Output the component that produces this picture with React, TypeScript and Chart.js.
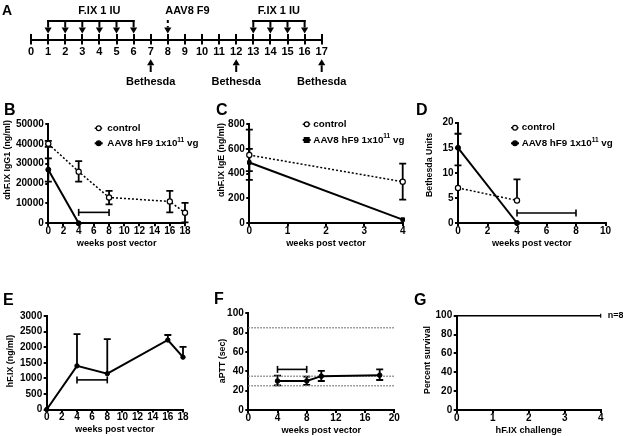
import React, { useEffect, useRef } from "react";
import { Chart, registerables } from "chart.js";

Chart.register(...registerables);

const W = 623;
const H = 436;
const FONT = "'Liberation Sans', Arial, Helvetica, sans-serif";
Chart.defaults.font.family = FONT;
Chart.defaults.color = "#000";

// ---------------- data ----------------
// Panel A: dosing timeline (weeks)
const timelineStart = 0;
const timelineEnd = 17;
const fixDoseWeeksFirst = [1, 2, 3, 4, 5, 6];
const fixDoseWeeksSecond = [13, 14, 15, 16];
const vectorWeeks = [8];
const bethesdaWeeks = [7, 12, 17];
const fixLabel = "F.IX 1 IU";
const vectorLabel = "AAV8 F9";
const bethesdaLabel = "Bethesda";

// Panel B: anti-hF.IX IgG1 (ng/ml)
const bWeeks = [0, 4, 8, 16, 18];
const bControl = [40000, 26000, 13000, 11000, 5300];
const bControlLow = [38500, 21000, 9500, 5500, 500];
const bControlHigh = [41500, 31300, 16300, 16300, 10300];
const bAavWeeks = [0, 4];
const bAav = [27000, 0];
const bAavLow = [21000, null];
const bAavHigh = [32700, null];
const bChallengeWeeks = [4, 8];
const bChallengeLevel = 5500;

// Panel C: anti-hF.IX IgE (ng/ml)
const cWeeks = [0, 4];
const cControl = [550, 335];
const cControlLow = [350, 190];
const cControlHigh = [755, 480];
const cAav = [490, 30];
const cAavLow = [420, null];
const cAavHigh = [600, null];

// Panel D: Bethesda units
const dWeeks = [0, 4];
const dControl = [7, 4.5];
const dControlHigh = [null, 8.7];
const dAav = [15, 0];
const dAavLow = [11.5, null];
const dAavHigh = [17.8, null];
const dChallengeWeeks = [4, 8];
const dChallengeLevel = 2;

// Panel E: hF.IX (ng/ml)
const eWeeks = [0, 4, 8, 16, 18];
const eMean = [0, 1400, 1150, 2230, 1680];
const eHigh = [null, 2420, 2260, 2390, 2010];
const eChallengeWeeks = [4, 8];
const eChallengeLevel = 950;

// Panel F: aPTT (sec)
const fWeeks = [4, 8, 10, 18];
const fMean = [30, 30, 35, 36];
const fLow = [25.5, 26, 30, 31];
const fHigh = [35.5, 34.5, 40.5, 42];
const fRefLevels = [85, 35, 25];
const fChallengeWeeks = [4, 8];
const fChallengeLevel = 42;

// Panel G: survival
const gChallenge = [0, 4];
const gSurvival = [100, 100];
const gNote = "n=8";

const legendControl = [{ t: "control" }];
const legendAav = [{ t: "AAV8 hF9 1x10" }, { t: "11", sup: true }, { t: " vg" }];

// ---------------- helpers ----------------
const pts = (xs: number[], ys: number[]) => xs.map((x, i) => ({ x, y: ys[i] }));

const controlStyle = {
  type: "line",
  borderColor: "#000",
  borderWidth: 1.5,
  borderDash: [2, 2],
  pointStyle: "circle",
  pointRadius: 2.6,
  pointBackgroundColor: "#fff",
  pointBorderColor: "#000",
  pointBorderWidth: 1.2,
  clip: false,
  order: 2,
};
const aavStyle = {
  type: "line",
  borderColor: "#000",
  borderWidth: 2,
  pointStyle: "circle",
  pointRadius: 2.5,
  pointBackgroundColor: "#000",
  pointBorderColor: "#000",
  pointBorderWidth: 1,
  clip: false,
  order: 1,
};
const rangeStyle = {
  type: "line",
  borderColor: "#000",
  borderWidth: 1.6,
  pointStyle: "line",
  pointRotation: 90,
  pointRadius: 3.5,
  pointBorderWidth: 1.6,
  pointBorderColor: "#000",
  clip: false,
  order: 3,
};

function drawMarker(ctx: CanvasRenderingContext2D, kind: string, x: number, y: number, r: number) {
  ctx.save();
  ctx.setLineDash([]);
  ctx.lineWidth = 1.2;
  ctx.strokeStyle = "#000";
  ctx.fillStyle = kind === "open" ? "#fff" : "#000";
  ctx.beginPath();
  if (kind === "square") ctx.rect(x - r, y - r, 2 * r, 2 * r);
  else ctx.arc(x, y, r, 0, Math.PI * 2);
  ctx.fill();
  ctx.stroke();
  ctx.restore();
}

const errorBarPlugin = {
  id: "errorBars",
  beforeDatasetsDraw(chart: any) {
    const ctx = chart.ctx as CanvasRenderingContext2D;
    const xs = chart.scales.x;
    const ys = chart.scales.y;
    chart.data.datasets.forEach((ds: any) => {
      if (!ds.errLow && !ds.errHigh) return;
      ctx.save();
      ctx.strokeStyle = "#000";
      ctx.lineWidth = 1.8;
      ctx.setLineDash([]);
      ds.data.forEach((p: any, j: number) => {
        const x = xs.getPixelForValue(p.x);
        const y0 = ys.getPixelForValue(p.y);
        const ends = [ds.errLow ? ds.errLow[j] : null, ds.errHigh ? ds.errHigh[j] : null];
        ends.forEach((v) => {
          if (v === null || v === undefined) return;
          const y = ys.getPixelForValue(v);
          ctx.beginPath();
          ctx.moveTo(x, y0);
          ctx.lineTo(x, y);
          ctx.moveTo(x - 3.5, y);
          ctx.lineTo(x + 3.5, y);
          ctx.stroke();
        });
      });
      ctx.restore();
    });
  },
};

const panelTextPlugin = {
  id: "panelText",
  afterDraw(chart: any, _args: any, o: any) {
    const ctx = chart.ctx as CanvasRenderingContext2D;
    ctx.save();
    ctx.fillStyle = "#000";
    ctx.strokeStyle = "#000";
    ctx.font = `bold 16px ${FONT}`;
    ctx.textAlign = "left";
    ctx.textBaseline = "alphabetic";
    ctx.fillText(o.letter, o.letterX, o.letterY);

    ctx.save();
    ctx.translate(o.yTitleX, o.yTitleY);
    ctx.rotate(-Math.PI / 2);
    ctx.font = `bold 8.8px ${FONT}`;
    ctx.textAlign = "center";
    ctx.textBaseline = "middle";
    ctx.fillText(o.yTitle, 0, 0);
    ctx.restore();

    if (o.legend) {
      const lg = o.legend;
      lg.entries.forEach((e: any, i: number) => {
        const y = lg.y0 + i * lg.dy;
        ctx.lineWidth = e.dashed ? 1.5 : 2;
        ctx.setLineDash(e.dashed ? [1.5, 1.5] : []);
        ctx.beginPath();
        ctx.moveTo(lg.x - 4, y);
        ctx.lineTo(lg.x + 4, y);
        ctx.stroke();
        ctx.setLineDash([]);
        drawMarker(ctx, e.kind, lg.x, y, 2.4);
        let tx = lg.textX;
        ctx.textAlign = "left";
        ctx.textBaseline = "middle";
        e.parts.forEach((p: any) => {
          ctx.font = `bold ${p.sup ? 6.5 : 9.8}px ${FONT}`;
          ctx.fillText(p.t, tx, p.sup ? y - 3.5 : y);
          tx += ctx.measureText(p.t).width;
        });
      });
    }

    if (o.note) {
      const xs = chart.scales.x;
      const ys = chart.scales.y;
      ctx.font = `bold 9px ${FONT}`;
      ctx.textAlign = "left";
      ctx.textBaseline = "middle";
      ctx.fillText(o.note.text, xs.getPixelForValue(o.note.x) + 7, ys.getPixelForValue(o.note.y));
    }
    ctx.restore();
  },
};

function arrow(ctx: CanvasRenderingContext2D, x: number, yFrom: number, yTip: number, dashed: boolean) {
  const dir = yTip > yFrom ? 1 : -1;
  const head = 6;
  const half = 3.6;
  ctx.beginPath();
  ctx.setLineDash(dashed ? [3, 3] : []);
  ctx.moveTo(x, yFrom);
  ctx.lineTo(x, yTip - dir * head);
  ctx.stroke();
  ctx.setLineDash([]);
  ctx.beginPath();
  ctx.moveTo(x, yTip);
  ctx.lineTo(x - half, yTip - dir * head);
  ctx.lineTo(x + half, yTip - dir * head);
  ctx.closePath();
  ctx.fill();
}

const timelinePlugin = {
  id: "timeline",
  afterDraw(chart: any) {
    const ctx = chart.ctx as CanvasRenderingContext2D;
    const xs = chart.scales.x;
    const px = (w: number) => xs.getPixelForValue(w);
    ctx.save();
    ctx.strokeStyle = "#000";
    ctx.fillStyle = "#000";
    ctx.lineWidth = 2;
    const bracketY = 21;
    const tipY = 33.5;
    [fixDoseWeeksFirst, fixDoseWeeksSecond].forEach((g) => {
      ctx.beginPath();
      ctx.moveTo(px(g[0]) - 1, bracketY);
      ctx.lineTo(px(g[g.length - 1]) + 1, bracketY);
      ctx.stroke();
      g.forEach((w) => arrow(ctx, px(w), bracketY - 1, tipY, false));
    });
    vectorWeeks.forEach((w) => arrow(ctx, px(w), 20, tipY, true));
    bethesdaWeeks.forEach((w) => arrow(ctx, px(w), 72, 59.3, false));
    ctx.font = `bold 11px ${FONT}`;
    ctx.textAlign = "center";
    ctx.textBaseline = "alphabetic";
    bethesdaWeeks.forEach((w) => ctx.fillText(bethesdaLabel, px(w), 85));
    ctx.fillText(fixLabel, px(4.0), 13.5);
    ctx.fillText(fixLabel, px(14.5), 13.5);
    ctx.fillText(vectorLabel, px(9.15), 13.5);
    ctx.font = `bold 14px ${FONT}`;
    ctx.textAlign = "left";
    ctx.fillText("A", 2, 15);
    ctx.restore();
  },
};

function timelineConfig(): any {
  const xh = 20;
  return {
    type: "line",
    data: { datasets: [] },
    options: {
      responsive: false,
      animation: false,
      devicePixelRatio: 1,
      events: [],
      layout: { padding: { left: 31, right: W - 321.7, top: 34, bottom: H - 39.5 - xh } },
      plugins: { legend: { display: false }, tooltip: { enabled: false } },
      scales: {
        x: {
          type: "linear",
          min: timelineStart,
          max: timelineEnd,
          afterFit: (s: any) => {
            s.height = xh;
          },
          ticks: {
            stepSize: 1,
            autoSkip: false,
            maxRotation: 0,
            font: { size: 11, weight: "bold" },
            color: "#000",
            padding: 1,
            callback: (v: any) => String(v),
          },
          grid: { drawOnChartArea: true, drawTicks: true, tickLength: 5, lineWidth: 2, color: "#000" },
          border: { display: true, width: 2, color: "#000" },
        },
        y: { display: false, min: 0, max: 1 },
      },
    },
    plugins: [timelinePlugin],
  };
}

function panelConfig(p: any): any {
  const yw = 40;
  const xh = p.titleY + 5.4 - p.B;
  const tickFont = { size: 10, weight: "bold" };
  const axisCommon = {
    type: "linear",
    grid: { drawOnChartArea: false, drawTicks: true, tickLength: 3, lineWidth: 2, color: "#000" },
    border: { display: true, width: 2, color: "#000" },
  };
  return {
    type: "line",
    data: { datasets: p.datasets },
    options: {
      responsive: false,
      animation: false,
      devicePixelRatio: 1,
      events: [],
      layout: { padding: { left: p.L - yw, right: W - p.R, top: p.T, bottom: H - p.B - xh } },
      plugins: {
        legend: { display: false },
        tooltip: { enabled: false },
        panelText: {
          letter: p.letter,
          letterX: p.letterX,
          letterY: p.letterY,
          yTitle: p.yTitle,
          yTitleX: p.yTitleX,
          yTitleY: p.yTitleY,
          legend: p.legend,
          note: p.note,
        },
      },
      scales: {
        x: {
          ...axisCommon,
          min: p.x[0],
          max: p.x[1],
          afterFit: (s: any) => {
            s.height = xh;
          },
          ticks: {
            stepSize: p.x[2],
            autoSkip: false,
            maxRotation: 0,
            font: tickFont,
            color: "#000",
            padding: -1,
            callback: (v: any) => String(v),
          },
          title: {
            display: true,
            text: p.xTitle,
            font: { size: 9.2, weight: "bold", lineHeight: 1.2 },
            color: "#000",
            padding: 0,
          },
        },
        y: {
          ...axisCommon,
          min: p.y[0],
          max: p.y[1],
          afterFit: (s: any) => {
            s.width = yw;
          },
          ticks: {
            stepSize: p.y[2],
            autoSkip: false,
            font: tickFont,
            color: "#000",
            padding: 1.5,
            callback: (v: any) => String(v),
          },
        },
      },
    },
    plugins: [errorBarPlugin, panelTextPlugin],
  };
}

const legendEntries = (aavKind: string) => [
  { parts: legendControl, kind: "open", dashed: true },
  { parts: legendAav, kind: aavKind, dashed: false },
];

function configB(): any {
  return panelConfig({
    L: 48.3, R: 185, T: 124, B: 223.3, titleY: 244,
    x: [0, 18, 2], y: [0, 50000, 10000],
    xTitle: "weeks post vector", yTitle: "αhF.IX IgG1 (ng/ml)", yTitleX: 8, yTitleY: 160,
    letter: "B", letterX: 4, letterY: 115,
    legend: { x: 98.7, y0: 128.3, dy: 15, textX: 107.3, entries: legendEntries("filled") },
    datasets: [
      { ...aavStyle, data: pts(bAavWeeks, bAav), errLow: bAavLow, errHigh: bAavHigh },
      { ...controlStyle, data: pts(bWeeks, bControl), errLow: bControlLow, errHigh: bControlHigh },
      { ...rangeStyle, data: pts(bChallengeWeeks, bChallengeWeeks.map(() => bChallengeLevel)) },
    ],
  });
}

function configC(): any {
  return panelConfig({
    L: 249.3, R: 402.7, T: 124, B: 223.3, titleY: 244,
    x: [0, 4, 1], y: [0, 800, 200],
    xTitle: "weeks post vector", yTitle: "αhF.IX IgE (ng/ml)", yTitleX: 222, yTitleY: 160,
    letter: "C", letterX: 216, letterY: 115,
    legend: { x: 306.7, y0: 124.3, dy: 15.7, textX: 313.3, entries: legendEntries("square") },
    datasets: [
      { ...aavStyle, pointStyle: "rect", data: pts(cWeeks, cAav), errLow: cAavLow, errHigh: cAavHigh },
      { ...controlStyle, data: pts(cWeeks, cControl), errLow: cControlLow, errHigh: cControlHigh },
    ],
  });
}

function configD(): any {
  return panelConfig({
    L: 458, R: 605.5, T: 122.7, B: 223, titleY: 244,
    x: [0, 10, 2], y: [0, 20, 5],
    xTitle: "weeks post vector", yTitle: "Bethesda Units", yTitleX: 430, yTitleY: 165,
    letter: "D", letterX: 416, letterY: 115,
    legend: { x: 515, y0: 127.7, dy: 15.6, textX: 521.7, entries: legendEntries("filled") },
    datasets: [
      { ...aavStyle, data: pts(dWeeks, dAav), errLow: dAavLow, errHigh: dAavHigh },
      { ...controlStyle, data: pts(dWeeks, dControl), errHigh: dControlHigh },
      { ...rangeStyle, data: pts(dChallengeWeeks, dChallengeWeeks.map(() => dChallengeLevel)) },
    ],
  });
}

function configE(): any {
  return panelConfig({
    L: 46.7, R: 183, T: 316, B: 409.5, titleY: 430,
    x: [0, 18, 2], y: [0, 3000, 500],
    xTitle: "weeks post vector", yTitle: "hF.IX (ng/ml)", yTitleX: 11, yTitleY: 361,
    letter: "E", letterX: 3, letterY: 305,
    datasets: [
      { ...aavStyle, pointRadius: 2.2, data: pts(eWeeks, eMean), errHigh: eHigh },
      { ...rangeStyle, data: pts(eChallengeWeeks, eChallengeWeeks.map(() => eChallengeLevel)) },
    ],
  });
}

function configF(): any {
  const refLines = fRefLevels.map((lv) => ({
    type: "line",
    data: [{ x: 0, y: lv }, { x: 20, y: lv }],
    borderColor: "#808080",
    borderWidth: 1.5,
    borderDash: [1.5, 1.5],
    pointRadius: 0,
    clip: false,
    order: 10,
  }));
  return panelConfig({
    L: 248.3, R: 394.3, T: 313.3, B: 410, titleY: 431,
    x: [0, 20, 4], y: [0, 100, 20],
    xTitle: "weeks post vector", yTitle: "aPTT (sec)", yTitleX: 223, yTitleY: 361,
    letter: "F", letterX: 214, letterY: 304,
    datasets: [
      { ...aavStyle, pointRadius: 2.3, data: pts(fWeeks, fMean), errLow: fLow, errHigh: fHigh },
      { ...rangeStyle, data: pts(fChallengeWeeks, fChallengeWeeks.map(() => fChallengeLevel)) },
      ...refLines,
    ],
  });
}

function configG(): any {
  return panelConfig({
    L: 456.7, R: 600.7, T: 315.7, B: 410, titleY: 430.7,
    x: [0, 4, 1], y: [0, 100, 20],
    xTitle: "hF.IX challenge", yTitle: "Percent survival", yTitleX: 428, yTitleY: 360,
    letter: "G", letterX: 414, letterY: 305,
    note: { text: gNote, x: gChallenge[gChallenge.length - 1], y: gSurvival[gSurvival.length - 1] },
    datasets: [
      {
        type: "line",
        data: pts(gChallenge, gSurvival),
        stepped: true,
        borderColor: "#000",
        borderWidth: 1.5,
        pointStyle: "line",
        pointRotation: 90,
        pointRadius: [0, 2],
        pointBorderWidth: 1.2,
        pointBorderColor: "#000",
        clip: false,
      },
    ],
  });
}

function ChartCanvas({ make }: { make: () => any }) {
  const ref = useRef<HTMLCanvasElement>(null);
  useEffect(() => {
    const chart = new Chart(ref.current as HTMLCanvasElement, make());
    return () => chart.destroy();
  }, [make]);
  return (
    <canvas
      ref={ref}
      width={W}
      height={H}
      style={{ position: "absolute", left: 0, top: 0, width: W, height: H, pointerEvents: "none" }}
    />
  );
}

const makers = [timelineConfig, configB, configC, configD, configE, configF, configG];

export default function App() {
  return (
    <div style={{ position: "fixed", left: 0, top: 0, width: W, height: H, background: "#fff", overflow: "hidden" }}>
      {makers.map((m, i) => (
        <ChartCanvas key={i} make={m} />
      ))}
    </div>
  );
}
